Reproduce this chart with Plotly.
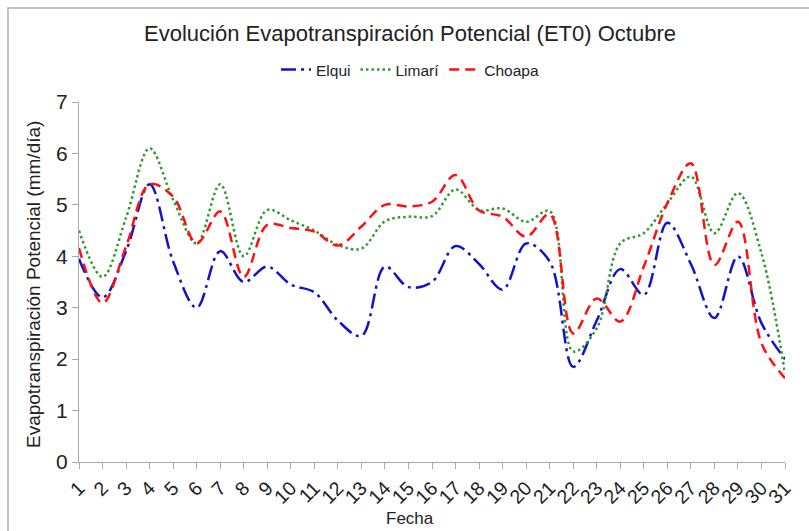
import plotly.graph_objects as go

dias = list(range(1, 32))
tick_labels = [str(d) for d in dias]

elqui = [3.95, 3.2, 4.1, 5.4, 3.9, 3.0, 4.1, 3.5, 3.8, 3.45,
         3.3, 2.75, 2.45, 3.8, 3.4, 3.5, 4.2, 3.85, 3.35, 4.25,
         3.9, 1.85, 2.75, 3.75, 3.25, 4.65, 3.85, 2.8, 4.0, 2.7, 2.0]
limari = [4.5, 3.6, 4.75, 6.1, 5.1, 4.25, 5.4, 4.0, 4.9, 4.7,
          4.5, 4.22, 4.15, 4.68, 4.77, 4.78, 5.3, 4.9, 4.93, 4.67,
          4.88, 2.15, 2.6, 4.25, 4.45, 5.03, 5.55, 4.45, 5.23, 4.06, 1.72]
choapa = [4.16, 3.09, 4.19, 5.4, 5.16, 4.25, 4.87, 3.6, 4.61, 4.55,
          4.48, 4.21, 4.58, 5.0, 4.97, 5.06, 5.58, 4.89, 4.77, 4.38,
          4.82, 2.5, 3.18, 2.73, 3.8, 5.03, 5.81, 3.83, 4.67, 2.31, 1.63]

FONT = "Liberation Sans, Arial, sans-serif"
TXT = "#222222"
fig = go.Figure()
fig.add_trace(go.Scatter(x=dias, y=elqui, name="Elqui", mode="lines",
                         line=dict(color="#1212CC", width=2.5, dash="15px,5px,3px,5px",
                                   shape="spline", smoothing=1)))
fig.add_trace(go.Scatter(x=dias, y=limari, name="Limarí", mode="lines",
                         line=dict(color="#2E9A2E", width=2.5, dash="2.5px,3px",
                                   shape="spline", smoothing=1)))
fig.add_trace(go.Scatter(x=dias, y=choapa, name="Choapa", mode="lines",
                         line=dict(color="#FF1010", width=2.5, dash="10px,6px",
                                   shape="spline", smoothing=1)))

L, R, T, B = 79, 24, 102, 69
W, H = 809, 531
pw, ph = W - L - R, H - T - B

fig.update_layout(
    width=W, height=H,
    margin=dict(l=L, r=R, t=T, b=B),
    paper_bgcolor="white", plot_bgcolor="white",
    font=dict(family=FONT, color=TXT),
    title=dict(text="Evolución Evapotranspiración Potencial (ET0) Octubre",
               x=410 / W, xanchor="center", y=1 - 33 / H, yanchor="middle",
               yref="container", font=dict(size=22, family=FONT, color=TXT)),
    showlegend=True,
    legend=dict(orientation="h", x=(410 - L) / pw, xanchor="center",
                y=1 + (T - 70) / ph, yanchor="middle",
                font=dict(size=15.5, family=FONT, color=TXT),
                bgcolor="rgba(0,0,0,0)", itemwidth=30),
    xaxis=dict(range=[1, 31], tickmode="array", tickvals=dias, ticktext=tick_labels,
               tickangle=-45, ticks="outside", ticklen=6, tickcolor="#AAAAAA",
               showline=True, linecolor="#AAAAAA", linewidth=1, showgrid=False,
               zeroline=False, tickfont=dict(size=19.5, family=FONT, color=TXT)),
    yaxis=dict(range=[0, 7], dtick=1, ticks="outside", ticklen=6, tickcolor="#AAAAAA",
               showline=True, linecolor="#AAAAAA", linewidth=1, showgrid=False,
               zeroline=False, tickfont=dict(size=21, family=FONT, color=TXT)),
    annotations=[
        dict(text="Evapotranspiración Potencial (mm/día)", xref="paper", yref="paper",
             x=(33 - L) / pw, y=(H - B - 285) / ph, textangle=-90, showarrow=False,
             xanchor="center", yanchor="middle", font=dict(size=19, family=FONT, color=TXT)),
        dict(text="Fecha", xref="paper", yref="paper",
             x=(410 - L) / pw, y=-(518 - (H - B)) / ph, showarrow=False,
             xanchor="center", yanchor="middle", font=dict(size=17, family=FONT, color=TXT)),
    ],
    shapes=[dict(type="rect", xref="paper", yref="paper",
                 x0=(8 - L) / pw, y0=-(H + 20 - (H - B)) / ph,
                 x1=(W + 20 - L) / pw, y1=1 + (T - 8) / ph,
                 line=dict(color="#B0B0B0", width=1.5), fillcolor="rgba(0,0,0,0)", layer="above")],
)

fig.write_html("out.html", config={"displayModeBar": False},
               post_script="document.body.style.margin='0px';document.body.style.padding='0px';")
